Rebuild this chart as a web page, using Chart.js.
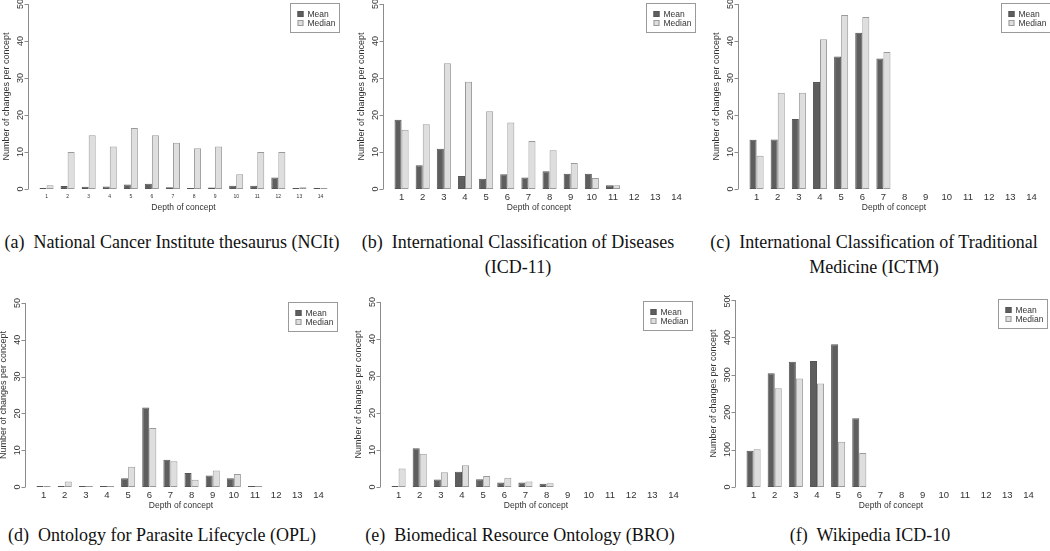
<!DOCTYPE html>
<html>
<head>
<meta charset="utf-8">
<script src="https://cdn.jsdelivr.net/npm/chart.js@4.4.1/dist/chart.umd.min.js"></script>
<style>
  body { margin: 0; background: #fff; width: 1050px; height: 551px; position: relative; overflow: hidden; }
  canvas { position: absolute; }
  .cap { position: absolute; width: 360px; font-family: "Liberation Serif", "Times New Roman", serif; font-size: 18px; color: #111; text-align: center; line-height: 25px; white-space: nowrap; }
</style>
</head>
<body>
<canvas id="pa" width="350" height="215" style="left:0;top:0"></canvas>
<canvas id="pb" width="350" height="215" style="left:350px;top:0"></canvas>
<canvas id="pc" width="350" height="215" style="left:700px;top:0"></canvas>
<canvas id="pd" width="350" height="215" style="left:0;top:295px"></canvas>
<canvas id="pe" width="350" height="215" style="left:350px;top:295px"></canvas>
<canvas id="pf" width="350" height="215" style="left:700px;top:295px"></canvas>

<div class="cap" style="left:-8px;top:230px">(a)&nbsp; National Cancer Institute thesaurus (NCIt)</div>
<div class="cap" style="left:338px;top:230px">(b)&nbsp; International Classification of Diseases<br>(ICD-11)</div>
<div class="cap" style="left:694px;top:230px">(c)&nbsp; International Classification of Traditional<br>Medicine (ICTM)</div>
<div class="cap" style="left:-18px;top:523px">(d)&nbsp; Ontology for Parasite Lifecycle (OPL)</div>
<div class="cap" style="left:340px;top:523px">(e)&nbsp; Biomedical Resource Ontology (BRO)</div>
<div class="cap" style="left:690px;top:523px">(f)&nbsp; Wikipedia ICD-10</div>

<script>
// profundidad del concepto (eje x)
const depths = ['1', '2', '3', '4', '5', '6', '7', '8', '9', '10', '11', '12', '13', '14'];
const seriesNames = ['Mean', 'Median'];

// valores, null = sin barra
const nciMean = [0.1, 0.8, 0.6, 0.7, 1.2, 1.4, 0.5, 0.3, 0.4, 0.9, 0.9, 3.1, 0.1, 0];
const nciMedian = [1, 10, 14.5, 11.5, 16.5, 14.5, 12.5, 11, 11.5, 4, 10, 10, 0.5, 0];
const icdMean = [18.7, 6.4, 10.9, 3.5, 2.8, 4, 3.1, 4.8, 4.1, 4.1, 1, null, null, null];
const icdMedian = [16, 17.5, 34, 29, 21, 18, 13, 10.5, 7, 3, 1, null, null, null];
const ictmMean = [13.3, 13.4, 18.9, 28.9, 35.8, 42.2, 35.3, null, null, null, null, null, null, null];
const ictmMedian = [9, 26, 26, 40.5, 47, 46.5, 37, null, null, null, null, null, null, null];
const oplMean = [0, 0.2, 0, 0, 2.4, 21.6, 7.4, 3.8, 3.1, 2.4, 0.1, null, null, null];
const oplMedian = [0, 1.5, 0, 0, 5.5, 16, 7, 2, 4.5, 3.5, 0, null, null, null];
const broMean = [0.3, 10.5, 2, 4.1, 2.1, 1.2, 1.2, 0.9, null, null, null, null, null, null];
const broMedian = [5, 9, 4, 5.9, 3, 2.5, 1.5, 1, null, null, null, null, null, null];
const wikiMean = [97, 304, 335, 337, 382, 184, null, null, null, null, null, null, null, null];
const wikiMedian = [101, 264, 290, 277, 121, 91, null, null, null, null, null, null, null, null];

// marcas del eje y
const ticks50 = [0, 10, 20, 30, 40, 50];
const ticks500 = [0, 100, 200, 300, 400, 500];

const sans = '"Liberation Sans", Arial, Helvetica, sans-serif';

// Plugin para dibujar ejes y leyenda al estilo de R
const rStyle = {
    id: 'rStyle',
    afterDatasetsDraw(chart, args, opts) {
        const ctx = chart.ctx;
        const area = chart.chartArea;
        const xs = chart.scales.x, ys = chart.scales.y;
        const axisX = Math.round(area.left - 8.5) + 0.5;
        ctx.save();

        // eje y
        ctx.strokeStyle = '#8c8c8c';
        ctx.lineWidth = 1;
        ctx.beginPath();
        ctx.moveTo(axisX, ys.getPixelForValue(opts.ticks[0]));
        ctx.lineTo(axisX, ys.getPixelForValue(opts.ticks[opts.ticks.length - 1]));
        opts.ticks.forEach(v => {
            const py = Math.round(ys.getPixelForValue(v)) + 0.5;
            ctx.moveTo(axisX - 4, py);
            ctx.lineTo(axisX, py);
        });
        ctx.stroke();

        ctx.fillStyle = '#333';
        ctx.textAlign = 'center';
        ctx.textBaseline = 'middle';
        ctx.font = opts.yFont + 'px ' + sans;
        opts.ticks.forEach(v => {
            ctx.save();
            ctx.translate(axisX - 8, ys.getPixelForValue(v));
            ctx.rotate(-Math.PI / 2);
            ctx.fillText(String(v), 0, 0);
            ctx.restore();
        });

        // titulo eje y
        ctx.font = '9px ' + sans;
        ctx.save();
        ctx.translate(axisX - 22, (area.top + area.bottom) / 2);
        ctx.rotate(-Math.PI / 2);
        ctx.fillText('Number of changes per concept', 0, 0);
        ctx.restore();

        // etiquetas eje x
        ctx.font = opts.xFont + 'px ' + sans;
        chart.data.labels.forEach((l, i) => {
            ctx.fillText(l, xs.getPixelForValue(i), area.bottom + 8);
        });
        ctx.font = '8.5px ' + sans;
        ctx.fillText('Depth of concept', (area.left + area.right) / 2, area.bottom + 19);

        // leyenda
        const bw = 49, bh = 29;
        const bx = Math.round(area.right + 8 - bw) + 0.5;
        const by = Math.round(area.top) - 0.5;
        ctx.fillStyle = '#fff';
        ctx.fillRect(bx, by, bw, bh);
        ctx.strokeStyle = '#9a9a9a';
        ctx.strokeRect(bx, by, bw, bh);
        ctx.font = '8.5px ' + sans;
        ctx.textAlign = 'left';
        chart.data.datasets.forEach((ds, i) => {
            const ry = by + 10.5 + i * 9;
            ctx.fillStyle = ds.backgroundColor;
            ctx.fillRect(bx + 7, ry - 3, 6, 6);
            ctx.strokeStyle = ds.borderColor;
            ctx.strokeRect(bx + 7.5, ry - 2.5, 5, 5);
            ctx.fillStyle = '#333';
            ctx.fillText(ds.label, bx + 17, ry + 0.5);
        });
        ctx.restore();
    }
};

function makePanel(id, mean, median, yTicks, pad, xFont) {
    const ctx = document.getElementById(id).getContext('2d');
    return new Chart(ctx, {
        type: 'bar',
        data: {
            labels: depths,
            datasets: [
                { label: seriesNames[0], data: mean, backgroundColor: '#5e5e5e', borderColor: '#555555', borderWidth: 1 },
                { label: seriesNames[1], data: median, backgroundColor: '#dedede', borderColor: '#9a9a9a', borderWidth: 1 }
            ]
        },
        options: {
            responsive: false,
            animation: false,
            events: [],
            layout: { padding: pad },
            datasets: { bar: { categoryPercentage: 2 / 3, barPercentage: 1, minBarLength: 1, borderSkipped: false } },
            scales: {
                x: { display: false },
                y: { display: false, min: 0, max: yTicks[yTicks.length - 1] }
            },
            plugins: {
                legend: { display: false },
                tooltip: { enabled: false },
                rStyle: { ticks: yTicks, yFont: 9, xFont: xFont }
            }
        },
        plugins: [rStyle]
    });
}

makePanel('pa', nciMean, nciMedian, ticks50, { left: 36, right: 19, top: 4, bottom: 26 }, 5);
makePanel('pb', icdMean, icdMedian, ticks50, { left: 41, right: 13, top: 4, bottom: 26 }, 9.5);
makePanel('pc', ictmMean, ictmMedian, ticks50, { left: 46, right: 8, top: 4, bottom: 26 }, 9.5);
makePanel('pd', oplMean, oplMedian, ticks50, { left: 33, right: 21, top: 8, bottom: 23 }, 9.5);
makePanel('pe', broMean, broMedian, ticks50, { left: 38, right: 16, top: 7, bottom: 23 }, 9.5);
makePanel('pf', wikiMean, wikiMedian, ticks500, { left: 43, right: 11, top: 5, bottom: 23 }, 9.5);
</script>
</body>
</html>
